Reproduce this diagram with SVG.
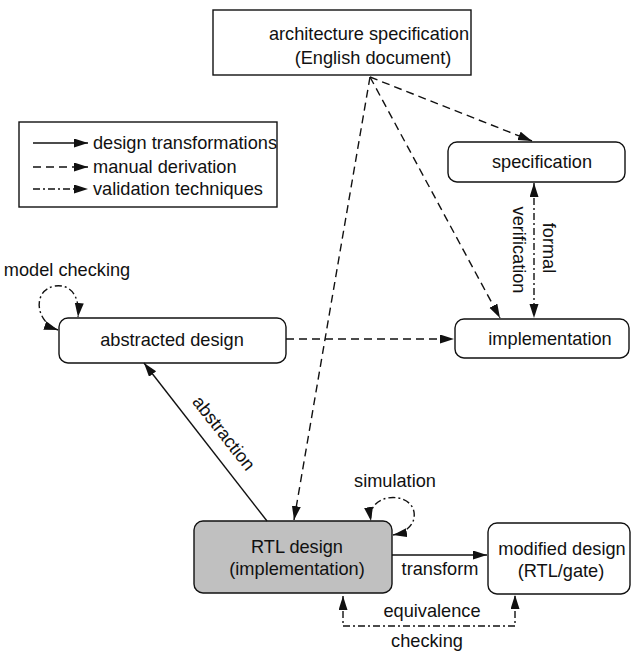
<svg xmlns="http://www.w3.org/2000/svg" width="631" height="654" viewBox="0 0 631 654">
  <style>
    text { font-family: "Liberation Sans", Arial, Helvetica, sans-serif; font-size: 18.2px; fill: #111; }
    .mid { text-anchor: middle; }
    .box { fill: #fff; stroke: #111; stroke-width: 1.4; }
    .rtl { fill: #c0c0c0; stroke: #111; stroke-width: 1.4; }
    .edge { fill: none; stroke: #111; stroke-width: 1.4; }
    .solid { marker-end: url(#arrow); }
    .dashed { stroke-dasharray: 8 5; marker-end: url(#arrow); }
    .dashdot { stroke-dasharray: 7 3 2 3; marker-end: url(#arrow); }
    .both { marker-start: url(#arrowStart); }
  </style>
  <defs>
    <marker id="arrow" markerUnits="userSpaceOnUse" markerWidth="15" markerHeight="10" refX="14" refY="4.5" orient="auto">
      <path d="M0,0 L14,4.5 L0,9 z" fill="#111"/>
    </marker>
    <marker id="arrowStart" markerUnits="userSpaceOnUse" markerWidth="15" markerHeight="10" refX="14" refY="4.5" orient="auto-start-reverse">
      <path d="M0,0 L14,4.5 L0,9 z" fill="#111"/>
    </marker>
  </defs>

  <rect width="631" height="654" fill="#fff"/>

  <!-- legend -->
  <g id="legend">
    <rect x="19" y="122" width="258" height="85" fill="#fff" stroke="#111" stroke-width="1.4"/>
    <line class="edge solid" x1="33" y1="143" x2="88" y2="143"/>
    <line class="edge dashed" x1="33" y1="167" x2="88" y2="167"/>
    <line class="edge dashdot" x1="33" y1="189" x2="88" y2="189"/>
    <text x="93" y="149">design transformations</text>
    <text x="93" y="173">manual derivation</text>
    <text x="93" y="195">validation techniques</text>
  </g>

  <!-- nodes -->
  <g id="arch-spec">
    <rect class="box" x="213" y="10" width="258" height="65"/>
    <text class="mid" x="369" y="40">architecture specification</text>
    <text class="mid" x="373" y="64">(English document)</text>
  </g>
  <g id="specification">
    <rect class="box" x="448" y="142" width="177" height="40" rx="9"/>
    <text class="mid" x="542" y="168">specification</text>
  </g>
  <g id="implementation">
    <rect class="box" x="455" y="319" width="174" height="39" rx="9"/>
    <text class="mid" x="550" y="345">implementation</text>
  </g>
  <g id="abstracted-design">
    <rect class="box" x="59" y="318" width="227" height="45" rx="9"/>
    <text class="mid" x="172" y="346">abstracted design</text>
  </g>
  <g id="rtl-design">
    <rect class="rtl" x="194" y="521" width="198" height="72" rx="9"/>
    <text class="mid" x="297" y="553">RTL design</text>
    <text class="mid" x="297" y="575">(implementation)</text>
  </g>
  <g id="modified-design">
    <rect class="box" x="488" y="523" width="142" height="71" rx="9"/>
    <text class="mid" x="562" y="555">modified design</text>
    <text class="mid" x="561" y="577">(RTL/gate)</text>
  </g>

  <!-- connectors -->
  <g id="connectors">
    <!-- manual derivations from the architecture specification -->
    <line class="edge dashed" x1="370" y1="77" x2="532" y2="141"/>
    <line class="edge dashed" x1="370" y1="77" x2="500" y2="318"/>
    <line class="edge dashed" x1="370" y1="77" x2="294" y2="520"/>
    <line class="edge dashed" x1="286" y1="339" x2="454" y2="339"/>

    <!-- formal verification -->
    <line class="edge dashdot both" x1="534" y1="183" x2="534" y2="318"/>
    <text x="543" y="248" class="mid" transform="rotate(90 543 248)">formal</text>
    <text x="513" y="250" class="mid" transform="rotate(90 513 250)">verification</text>

    <!-- abstraction -->
    <line class="edge solid" x1="267" y1="521" x2="144" y2="363"/>
    <text x="219" y="437" class="mid" transform="rotate(52 219 437)">abstraction</text>

    <!-- transform -->
    <line class="edge solid" x1="392" y1="555" x2="487" y2="555"/>
    <text class="mid" x="440" y="575">transform</text>

    <!-- equivalence checking -->
    <path class="edge dashdot both" d="M343,596 L343,626 L515,626 L515,595"/>
    <text class="mid" x="432" y="617">equivalence</text>
    <text class="mid" x="427" y="647">checking</text>

    <!-- simulation self-loop -->
    <path class="edge dashdot both" d="M393,535 C405,533 416,525 414,512 C410,490 366,493 371,521"/>
    <text class="mid" x="395" y="487">simulation</text>

    <!-- model checking self-loop -->
    <path class="edge dashdot both" d="M58,330 C35,322 32,290 55,286 C70,284 80,295 78,317"/>
    <text class="mid" x="67" y="276">model checking</text>
  </g>
</svg>
